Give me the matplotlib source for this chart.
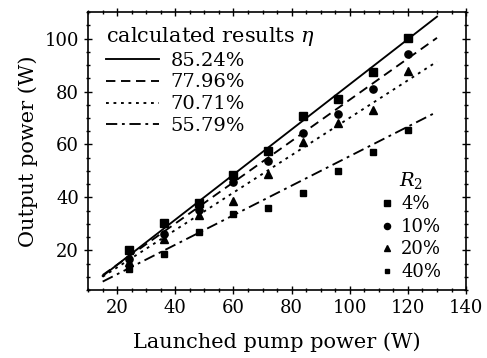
import matplotlib
matplotlib.use("Agg")
import matplotlib.pyplot as plt
import numpy as np
from matplotlib.ticker import MultipleLocator

plt.rcParams['font.family'] = ['DejaVu Serif']
plt.rcParams['mathtext.fontset'] = 'dejavuserif'

# Data
pump = [24, 36, 48, 60, 72, 84, 96, 108, 120]
r2_labels = ['4%', '10%', '20%', '40%']
out_4 = [20.0, 30.4, 38.0, 48.3, 57.7, 70.7, 77.0, 87.3, 100.3]
out_10 = [16.8, 26.3, 35.1, 45.8, 53.7, 64.3, 71.6, 81.0, 94.2]
out_20 = [15.5, 24.1, 33.2, 38.6, 48.7, 60.9, 68.0, 73.1, 87.7]
out_40 = [13.1, 18.5, 26.9, 33.6, 36.0, 41.8, 49.8, 57.1, 65.5]

eta_labels = ['85.24%', '77.96%', '70.71%', '55.79%']
eta_slopes = [0.8524, 0.7796, 0.7071, 0.5579]
eta_intercepts = [-2.5, -1.05, -0.6, -0.2]
fit_x = [15, 130]

fig = plt.figure(figsize=(4.87, 3.58), dpi=100)
ax = fig.add_axes([0.181, 0.19, 0.776, 0.776])

styles = ['-', (0, (5, 3)), (0, (1.5, 2.5)), (0, (6, 2.5, 1.5, 2.5))]
line_handles = []
for s, b, lab, ls in zip(eta_slopes, eta_intercepts, eta_labels, styles):
    xs = np.array(fit_x, dtype=float)
    h, = ax.plot(xs, s * xs + b, color='black', lw=1.35, linestyle=ls, label=lab)
    line_handles.append(h)

series = [out_4, out_10, out_20, out_40]
markers = ['s', 'o', '^', 's']
msizes = [5.2, 5.2, 5.6, 3.8]
mark_handles = []
for ys, m, ms, lab in zip(series, markers, msizes, r2_labels):
    h, = ax.plot(pump, ys, linestyle='none', marker=m, ms=ms, color='black', label=lab)
    mark_handles.append(h)

ax.set_xlim(10, 140)
ax.set_ylim(5, 110)
ax.xaxis.set_major_locator(MultipleLocator(20))
ax.xaxis.set_minor_locator(MultipleLocator(5))
ax.yaxis.set_major_locator(MultipleLocator(20))
ax.yaxis.set_minor_locator(MultipleLocator(5))
ax.tick_params(which='both', direction='inout', top=True, right=True, labelsize=13, width=1)
ax.tick_params(which='major', length=6)
ax.tick_params(which='minor', length=3.5)
for sp in ax.spines.values():
    sp.set_linewidth(1.2)

ax.set_xlabel('Launched pump power (W)', fontsize=15, labelpad=11)
ax.set_ylabel('Output power (W)', fontsize=15, labelpad=5)

leg1 = ax.legend(handles=line_handles, loc='upper left', frameon=False,
                 bbox_to_anchor=(0.022, 0.99),
                 title=r'calculated results $\eta$', title_fontsize=15, fontsize=14,
                 handlelength=2.7, handletextpad=0.6, labelspacing=0.2,
                 borderaxespad=0.2, alignment='left', borderpad=0.3)
ax.add_artist(leg1)

leg2 = ax.legend(handles=mark_handles, loc='lower right', frameon=False,
                 bbox_to_anchor=(0.958, 0.0),
                 title=r'$R_2$', title_fontsize=14, fontsize=13,
                 handlelength=0.6, handletextpad=0.5, labelspacing=0.25,
                 borderaxespad=0.2, markerscale=0.85, borderpad=0.3)

fig.savefig('out.png', dpi=100)
